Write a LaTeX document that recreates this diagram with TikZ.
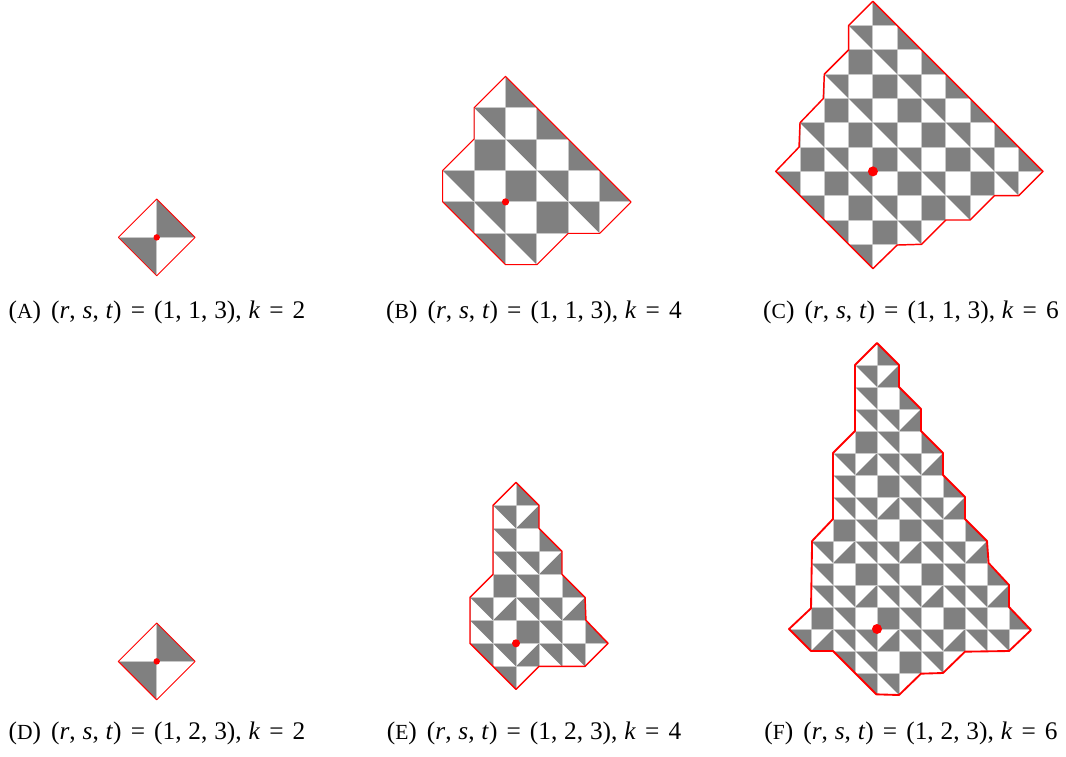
\documentclass[tikz,border=0pt]{standalone}
\usepackage{fontspec}
\setmainfont{Liberation Serif}
\definecolor{tileGray}{HTML}{808080}
\definecolor{tileLine}{HTML}{C8C8C8}

% one cell of the tiling, at column #1 and row #2
\newcommand{\tileF}[2]{\fill[tileGray] (#1,#2) rectangle ++(1,1);}
\newcommand{\tileU}[2]{\fill[tileGray] (#1,#2) -- ++(1,0) -- ++(0,1) -- cycle;}
\newcommand{\tileL}[2]{\fill[tileGray] (#1,#2) -- ++(0,1) -- ++(1,0) -- cycle;}
\newcommand{\tileB}[2]{\fill[tileGray] (#1,#2) ++(1,0) -- ++(0,1) -- ++(-1,0) -- cycle;}
\newcommand{\tileW}[2]{}
\newcommand{\tiles}[1]{\foreach \ry/\cx/\kinds in {#1} {\foreach \kind [count=\ci from \cx] in \kinds {\csname tile\kind\endcsname{\ci}{\ry}}}}
\newcommand{\tilegrid}[2]{\foreach \ci in {0,...,#1} \draw[cellline] (\ci,0) -- (\ci,#2);
  \foreach \ry in {0,...,#2} \draw[cellline] (0,\ry) -- (#1,\ry);}
\newcommand{\gapc}{\hspace{0.27em}}
\newcommand{\gape}{\hspace{0.36em}}
\newcommand{\sublabel}[3]{(\scalebox{0.85}{#1})\hspace{0.4em}(\textit{r},\gapc\textit{s},\gapc\textit{t})\gape=\gape(1,\gapc#2,\gapc3),\gapc\textit{k}\gape=\gape#3}

\begin{document}
\begin{tikzpicture}[
  x=0.75pt, y=-0.75pt,
  panel/.style n args={3}{shift={(#1,#2)}, x=#3*0.75pt, y=-#3*0.75pt},
  cellline/.style={draw=tileLine, line width=0.7pt},
  rim/.style={draw=red, line join=round, line width=#1},
  pivot/.style={fill=red, circle, inner sep=0pt, minimum size=#1},
  sublab/.style={font=\fontsize{19}{21}\selectfont, anchor=base, inner sep=0pt}
]
\useasboundingbox (0,0) rectangle (1066,756);

% top row
\begin{scope}[panel={118.3}{199}{38.4}]
  \newcommand{\rimA}{(1,0) -- (2,1) -- (1,2) -- (0,1) -- cycle}
  \begin{scope}
    \clip \rimA;
    \tiles{0/1/{L},1/0/{U}}
    \tilegrid{2}{2}
  \end{scope}
  \draw[rim=0.6pt] \rimA;
  \node[pivot=4.8pt] (dotA) at (1,1) {};
\end{scope}

\begin{scope}[panel={442.7}{76.3}{31.4}]
  \newcommand{\rimB}{(2,0) -- (6,4) -- (5,5) -- (4,5) -- (3,6) -- (2,6) -- (0,4) -- (0,3) -- (1,2) -- (1,1) -- cycle}
  \begin{scope}
    \clip \rimB;
    \tiles{0/2/{L},1/1/{U,W,L},2/1/{F,U,W,L},3/0/{U,W,F,U,W,L},4/0/{U,U,W,F,U},5/1/{U,U}}
    \tilegrid{6}{6}
  \end{scope}
  \draw[rim=0.8pt] \rimB;
  \node[pivot=5.4pt] (dotB) at (2,4) {};
\end{scope}

\begin{scope}[panel={775.7}{1.3}{24.3}]
  \newcommand{\rimC}{(4,0) -- (11,7) -- (10,8) -- (9,8) -- (8,9) -- (7,9) -- (6,10) -- (5,10.03) -- (4,11) -- (0,7) -- (0.96,6) -- (1,5) -- (1.96,4) -- (2,3) -- (3,2) -- (3,1) -- cycle}
  \begin{scope}
    \clip \rimC;
    \tiles{0/4/{L},1/3/{U,W,L},2/3/{F,U,W,L},3/2/{U,W,F,U,W,L},4/2/{F,U,W,F,U,W,L},
      5/1/{U,W,F,U,W,F,U,W,L},6/1/{F,U,W,F,U,W,F,U,W,L},7/0/{U,W,F,U,W,F,U,W,F,U},
      8/1/{U,W,F,U,W,F,U},9/2/{U,W,F,U},10/3/{U}}
    \tilegrid{11}{11}
  \end{scope}
  \draw[rim=1.1pt] \rimC;
  \node[pivot=7.5pt] (dotC) at (4,7) {};
\end{scope}

% bottom row
\begin{scope}[panel={118.3}{623}{38.4}]
  \newcommand{\rimD}{(1,0) -- (2,1) -- (1,2) -- (0,1) -- cycle}
  \begin{scope}
    \clip \rimD;
    \tiles{0/1/{L},1/0/{U}}
    \tilegrid{2}{2}
  \end{scope}
  \draw[rim=0.7pt] \rimD;
  \node[pivot=4.8pt] (dotD) at (1,1) {};
\end{scope}

\begin{scope}[panel={470}{482.3}{23}]
  \newcommand{\rimE}{(2,0) -- (3,1) -- (3,2) -- (4,3) -- (4,4) -- (5,5) -- (5.04,6) -- (6,7) -- (5,8) -- (3,8) -- (2,9) -- (0,7) -- (0,5) -- (1,4) -- (1,1) -- cycle}
  \begin{scope}
    \clip \rimE;
    \tiles{0/2/{L},1/1/{U,B},2/1/{U,W,L},3/1/{U,U,B},4/1/{F,U,W,L},5/0/{U,B,U,U,B},
      6/0/{U,W,F,U,W,L},7/0/{U,U,B,U,U},8/1/{U}}
    \tilegrid{6}{9}
  \end{scope}
  \draw[rim=1.1pt] \rimE;
  \node[pivot=6pt] (dotE) at (2,7) {};
\end{scope}

\begin{scope}[panel={789}{343}{22}]
  \newcommand{\rimF}{(4,0) -- (5,1) -- (5,2) -- (6,3) -- (6,4) -- (7,5) -- (7,6) -- (8,7) -- (8,8) -- (9,9) -- (9.07,10) -- (10,11) -- (10,12) -- (11,13.05) -- (10,14) -- (8,14.03) -- (7,15) -- (6,15.03) -- (5,16) -- (3.97,15.97) -- (2,14) -- (1,14) -- (0,13) -- (1,12.06) -- (1.05,9) -- (2,8) -- (2,5) -- (3,4) -- (3,1) -- cycle}
  \begin{scope}
    \clip \rimF;
    \tiles{0/4/{L},1/3/{U,B},2/3/{U,W,L},3/3/{U,U,B},4/3/{F,U,W,L},5/2/{U,B,U,U,B},
      6/2/{U,W,F,U,W,L},7/2/{U,U,B,U,U,B},8/2/{F,U,W,F,U,W,L},9/1/{U,B,U,U,B,U,U,B},
      10/1/{U,W,F,U,W,F,U,W,L},11/1/{U,U,B,U,U,B,U,U,B},12/1/{F,U,W,F,U,W,F,U,W,L},
      13/0/{U,B,U,U,B,U,U,B,U,U},14/2/{U,U,W,F,U},15/3/{U,U}}
    \tilegrid{11}{16}
  \end{scope}
  \draw[rim=1.4pt] \rimF;
  \node[pivot=7.5pt] (dotF) at (4,13) {};
\end{scope}

\node[sublab] (capA) at (157,318) {\sublabel{A}{1}{2}};
\node[sublab] (capB) at (534,318) {\sublabel{B}{1}{4}};
\node[sublab] (capC) at (911,318) {\sublabel{C}{1}{6}};
\node[sublab] (capD) at (157,739) {\sublabel{D}{2}{2}};
\node[sublab] (capE) at (534,739) {\sublabel{E}{2}{4}};
\node[sublab] (capF) at (911,739) {\sublabel{F}{2}{6}};
\end{tikzpicture}
\end{document}
